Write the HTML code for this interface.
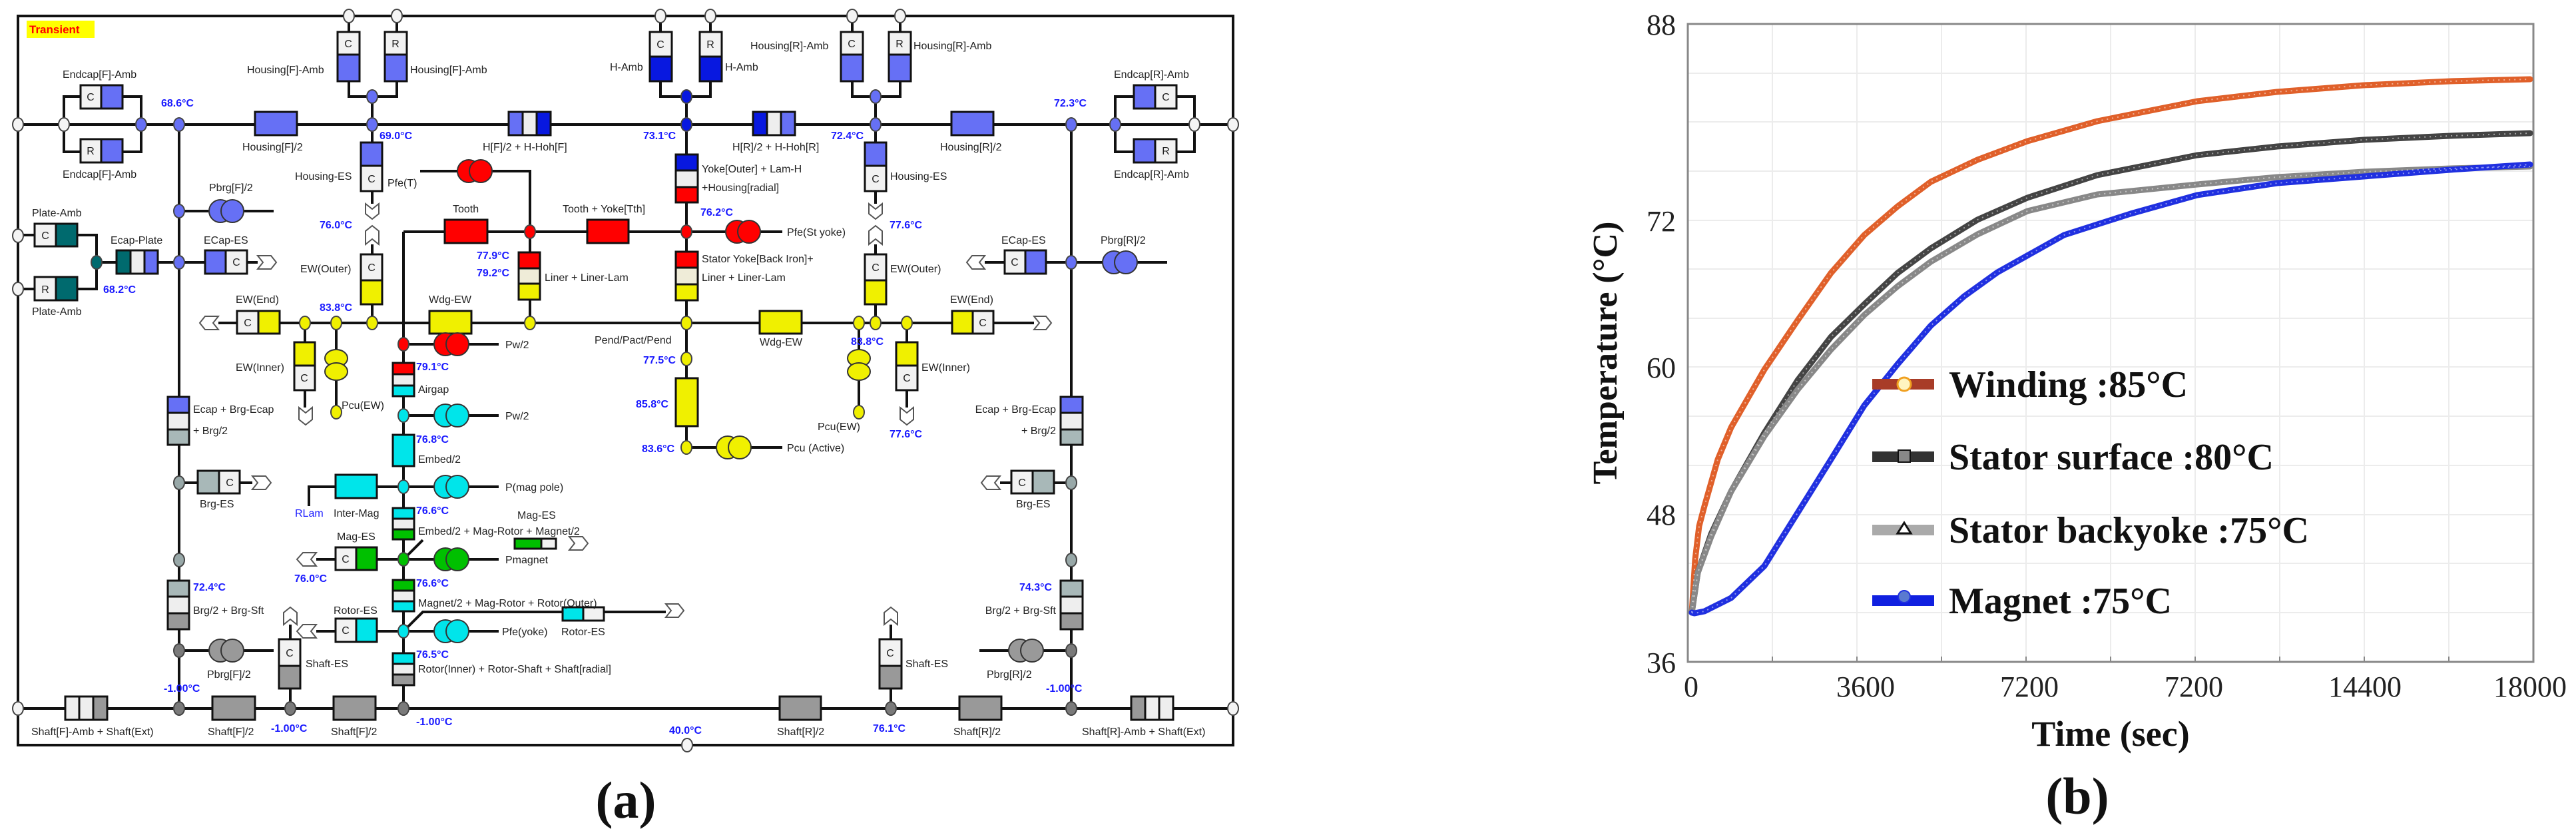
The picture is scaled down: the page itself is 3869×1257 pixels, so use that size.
<!DOCTYPE html>
<html><head><meta charset="utf-8"><style>
html,body{margin:0;padding:0;background:#fff;}
svg{display:block;}
.l{font-family:"Liberation Sans",Arial,sans-serif;font-size:16px;fill:#222;}
.t{font-family:"Liberation Sans",Arial,sans-serif;font-size:16px;fill:#1a1aff;font-weight:bold;}
.s{font-family:"Liberation Serif","Times New Roman",serif;}
</style></head><body>
<svg width="3869" height="1257" viewBox="0 0 3869 1257" xmlns="http://www.w3.org/2000/svg">
<rect width="3869" height="1257" fill="#fff"/>
<!-- ============ PANEL A ============ -->
<rect x="27" y="24" width="1825" height="1095" fill="none" stroke="#111" stroke-width="4"/>
<rect x="40" y="31" width="102" height="26" fill="#ffff00"/>
<text x="44" y="50" font-family="Liberation Sans,sans-serif" font-size="17" font-weight="bold" fill="#ff0000">Transient</text>
<g fill="none" stroke="#111" stroke-width="4">
<path d="M27 187H1852"/>
<path d="M96 187V145H212V187M96 187V228H212V187"/>
<path d="M1675 187V145H1794V187M1675 187V228H1794V187"/>
<path d="M524 24V145H596V24M559 145V306M559 367V485"/>
<path d="M992 24V145H1067V24M1031 145V672"/>
<path d="M1280 24V145H1352V24M1315 145V306M1315 367V485"/>
<path d="M269 187V1064M1609 187V1064"/>
<path d="M631 257H796V485"/>
<path d="M606 348H1031M606 348V1064"/>
<path d="M269 317H411M1609 394H1753"/>
<path d="M27 353H52M27 434H52M116 353H145V434H116M145 394H387"/>
<path d="M1479 394H1609"/>
<path d="M328 485H1553"/>
<path d="M458 485V612M505 485V619M1362 485V612M1290 485V619"/>
<path d="M606 517H749M606 624H749M464 760V731H749M475 840H749M475 948H749"/>
<path d="M606 840L635 811M606 948L635 919H1000"/>
<path d="M1031 672H1175M1031 348H1175"/>
<path d="M269 725H379M269 977H411M1502 725H1609M1471 977H1609"/>
<path d="M436 1064V938M1338 1064V938"/>
<path d="M27 1064H1852"/>
</g>
<!-- blocks -->
<g stroke="#111" stroke-width="3">
<rect x="121" y="128" width="31" height="35" fill="#f2f2f2"/><rect x="152" y="128" width="32" height="35" fill="#6670f5"/>
<rect x="121" y="209" width="31" height="35" fill="#f2f2f2"/><rect x="152" y="209" width="32" height="35" fill="#6670f5"/>
<rect x="1703" y="128" width="32" height="35" fill="#6670f5"/><rect x="1735" y="128" width="32" height="35" fill="#f2f2f2"/>
<rect x="1703" y="209" width="32" height="35" fill="#6670f5"/><rect x="1735" y="209" width="32" height="35" fill="#f2f2f2"/>
<rect x="507" y="48" width="33" height="34" fill="#f2f2f2"/><rect x="507" y="82" width="33" height="40" fill="#6670f5"/>
<rect x="578" y="48" width="33" height="34" fill="#f2f2f2"/><rect x="578" y="82" width="33" height="40" fill="#6670f5"/>
<rect x="976" y="48" width="33" height="37" fill="#f2f2f2"/><rect x="976" y="85" width="33" height="37" fill="#0818e0"/>
<rect x="1051" y="48" width="33" height="37" fill="#f2f2f2"/><rect x="1051" y="85" width="33" height="37" fill="#0818e0"/>
<rect x="1263" y="48" width="33" height="34" fill="#f2f2f2"/><rect x="1263" y="82" width="33" height="40" fill="#6670f5"/>
<rect x="1335" y="48" width="33" height="34" fill="#f2f2f2"/><rect x="1335" y="82" width="33" height="40" fill="#6670f5"/>
<rect x="383" y="168" width="63" height="35" fill="#6670f5"/>
<rect x="764" y="168" width="21" height="35" fill="#6670f5"/><rect x="785" y="168" width="21" height="35" fill="#eee"/><rect x="806" y="168" width="21" height="35" fill="#0818e0"/>
<rect x="1131" y="168" width="21" height="35" fill="#0818e0"/><rect x="1152" y="168" width="21" height="35" fill="#eee"/><rect x="1173" y="168" width="21" height="35" fill="#6670f5"/>
<rect x="1429" y="168" width="63" height="35" fill="#6670f5"/>
<rect x="542" y="214" width="32" height="35" fill="#6670f5"/><rect x="542" y="249" width="32" height="38" fill="#f2f2f2"/>
<rect x="1299" y="214" width="32" height="35" fill="#6670f5"/><rect x="1299" y="249" width="32" height="38" fill="#f2f2f2"/>
<rect x="542" y="382" width="32" height="39" fill="#f2f2f2"/><rect x="542" y="421" width="32" height="36" fill="#f0f000"/>
<rect x="1299" y="382" width="32" height="39" fill="#f2f2f2"/><rect x="1299" y="421" width="32" height="36" fill="#f0f000"/>
<rect x="668" y="330" width="64" height="35" fill="#f00"/><rect x="882" y="330" width="62" height="35" fill="#f00"/>
<rect x="779" y="379" width="32" height="24" fill="#f00"/><rect x="779" y="403" width="32" height="23" fill="#efecd8"/><rect x="779" y="426" width="32" height="24" fill="#f0f000"/>
<rect x="1015" y="232" width="33" height="24" fill="#0818e0"/><rect x="1015" y="256" width="33" height="25" fill="#eee"/><rect x="1015" y="281" width="33" height="23" fill="#f00"/>
<rect x="1015" y="378" width="33" height="24" fill="#f00"/><rect x="1015" y="402" width="33" height="25" fill="#efecd8"/><rect x="1015" y="427" width="33" height="24" fill="#f0f000"/>
<rect x="1015" y="568" width="33" height="72" fill="#f0f000"/>
<rect x="52" y="336" width="32" height="34" fill="#f2f2f2"/><rect x="84" y="336" width="32" height="34" fill="#006a6e"/>
<rect x="52" y="416" width="32" height="35" fill="#f2f2f2"/><rect x="84" y="416" width="32" height="35" fill="#006a6e"/>
<rect x="175" y="376" width="21" height="35" fill="#006a6e"/><rect x="196" y="376" width="21" height="35" fill="#eee"/><rect x="217" y="376" width="20" height="35" fill="#6670f5"/>
<rect x="308" y="376" width="31" height="35" fill="#6670f5"/><rect x="339" y="376" width="32" height="35" fill="#f2f2f2"/>
<rect x="1509" y="376" width="31" height="35" fill="#f2f2f2"/><rect x="1540" y="376" width="31" height="35" fill="#6670f5"/>
<rect x="356" y="467" width="32" height="34" fill="#f2f2f2"/><rect x="388" y="467" width="32" height="34" fill="#f0f000"/>
<rect x="1430" y="467" width="31" height="34" fill="#f0f000"/><rect x="1461" y="467" width="31" height="34" fill="#f2f2f2"/>
<rect x="645" y="467" width="63" height="34" fill="#f0f000"/><rect x="1141" y="467" width="63" height="34" fill="#f0f000"/>
<rect x="442" y="514" width="31" height="35" fill="#f0f000"/><rect x="442" y="549" width="31" height="37" fill="#f2f2f2"/>
<rect x="1346" y="514" width="32" height="35" fill="#f0f000"/><rect x="1346" y="549" width="32" height="37" fill="#f2f2f2"/>
<rect x="590" y="545" width="32" height="17" fill="#f00"/><rect x="590" y="562" width="32" height="17" fill="#eee"/><rect x="590" y="579" width="32" height="16" fill="#00e5ea"/>
<rect x="590" y="653" width="32" height="47" fill="#00e5ea"/>
<rect x="504" y="713" width="62" height="35" fill="#00e5ea"/>
<rect x="590" y="763" width="32" height="16" fill="#00e5ea"/><rect x="590" y="779" width="32" height="16" fill="#eee"/><rect x="590" y="795" width="32" height="15" fill="#00c000"/>
<rect x="504" y="822" width="31" height="34" fill="#f2f2f2"/><rect x="535" y="822" width="31" height="34" fill="#00c000"/>
<rect x="773" y="809" width="40" height="15" fill="#00c000"/><rect x="813" y="809" width="22" height="15" fill="#f2f2f2"/>
<rect x="590" y="871" width="32" height="16" fill="#00c000"/><rect x="590" y="887" width="32" height="16" fill="#eee"/><rect x="590" y="903" width="32" height="15" fill="#00e5ea"/>
<rect x="504" y="929" width="31" height="35" fill="#f2f2f2"/><rect x="535" y="929" width="31" height="35" fill="#00e5ea"/>
<rect x="845" y="912" width="31" height="20" fill="#00e5ea"/><rect x="876" y="912" width="31" height="20" fill="#f2f2f2"/>
<rect x="590" y="981" width="32" height="16" fill="#00e5ea"/><rect x="590" y="997" width="32" height="16" fill="#eee"/><rect x="590" y="1013" width="32" height="16" fill="#999"/>
<rect x="252" y="596" width="32" height="24" fill="#6670f5"/><rect x="252" y="620" width="32" height="25" fill="#eee"/><rect x="252" y="645" width="32" height="23" fill="#a8b8b8"/>
<rect x="1593" y="596" width="33" height="24" fill="#6670f5"/><rect x="1593" y="620" width="33" height="25" fill="#eee"/><rect x="1593" y="645" width="33" height="23" fill="#a8b8b8"/>
<rect x="297" y="707" width="32" height="34" fill="#a8b8b8"/><rect x="329" y="707" width="31" height="34" fill="#f2f2f2"/>
<rect x="1519" y="707" width="32" height="34" fill="#f2f2f2"/><rect x="1551" y="707" width="32" height="34" fill="#a8b8b8"/>
<rect x="252" y="872" width="32" height="24" fill="#a8b8b8"/><rect x="252" y="896" width="32" height="25" fill="#eee"/><rect x="252" y="921" width="32" height="24" fill="#999"/>
<rect x="1593" y="872" width="33" height="24" fill="#a8b8b8"/><rect x="1593" y="896" width="33" height="25" fill="#eee"/><rect x="1593" y="921" width="33" height="24" fill="#999"/>
<rect x="419" y="960" width="32" height="40" fill="#f2f2f2"/><rect x="419" y="1000" width="32" height="34" fill="#999"/>
<rect x="1321" y="960" width="33" height="40" fill="#f2f2f2"/><rect x="1321" y="1000" width="33" height="34" fill="#999"/>
<rect x="98" y="1046" width="21" height="35" fill="#eee"/><rect x="119" y="1046" width="21" height="35" fill="#eee"/><rect x="140" y="1046" width="21" height="35" fill="#999"/>
<rect x="319" y="1046" width="64" height="35" fill="#999"/><rect x="501" y="1046" width="63" height="35" fill="#999"/>
<rect x="1171" y="1046" width="62" height="35" fill="#999"/><rect x="1441" y="1046" width="63" height="35" fill="#999"/>
<rect x="1699" y="1046" width="21" height="35" fill="#999"/><rect x="1720" y="1046" width="21" height="35" fill="#eee"/><rect x="1741" y="1046" width="21" height="35" fill="#eee"/>
</g>
<g class="l" font-size="15" text-anchor="middle">
<text x="136" y="151">C</text><text x="136" y="232">R</text>
<text x="1751" y="151">C</text><text x="1751" y="232">R</text>
<text x="523" y="71">C</text><text x="594" y="71">R</text>
<text x="992" y="72">C</text><text x="1067" y="72">R</text>
<text x="1279" y="71">C</text><text x="1351" y="71">R</text>
<text x="558" y="274">C</text><text x="1315" y="274">C</text>
<text x="558" y="407">C</text><text x="1315" y="407">C</text>
<text x="68" y="359">C</text><text x="68" y="440">R</text>
<text x="355" y="399">C</text><text x="1524" y="399">C</text>
<text x="372" y="490">C</text><text x="1476" y="490">C</text>
<text x="457" y="573">C</text><text x="1362" y="573">C</text>
<text x="519" y="845">C</text><text x="519" y="952">C</text>
<text x="345" y="730">C</text><text x="1535" y="730">C</text>
<text x="435" y="986">C</text><text x="1337" y="986">C</text>
</g>
<g stroke="#333" stroke-width="2">
<g fill="#f00"><circle cx="704" cy="257" r="17"/><circle cx="722" cy="257" r="17"/>
<circle cx="1107" cy="348" r="17"/><circle cx="1125" cy="348" r="17"/>
<circle cx="669" cy="517" r="17"/><circle cx="687" cy="517" r="17"/></g>
<g fill="#6670f5"><circle cx="331" cy="317" r="17"/><circle cx="349" cy="317" r="17"/>
<circle cx="1673" cy="394" r="17"/><circle cx="1691" cy="394" r="17"/></g>
<g fill="#00e5ea"><circle cx="669" cy="624" r="17"/><circle cx="687" cy="624" r="17"/>
<circle cx="669" cy="731" r="17"/><circle cx="687" cy="731" r="17"/>
<circle cx="669" cy="948" r="17"/><circle cx="687" cy="948" r="17"/></g>
<g fill="#00c000"><circle cx="669" cy="840" r="17"/><circle cx="687" cy="840" r="17"/></g>
<g fill="#999"><circle cx="331" cy="977" r="17"/><circle cx="349" cy="977" r="17"/>
<circle cx="1532" cy="977" r="17"/><circle cx="1550" cy="977" r="17"/></g>
<g fill="#f0f000"><circle cx="1093" cy="672" r="17"/><circle cx="1111" cy="672" r="17"/>
<ellipse cx="505" cy="538" rx="17" ry="13"/><ellipse cx="505" cy="558" rx="17" ry="13"/>
<ellipse cx="1290" cy="538" rx="17" ry="13"/><ellipse cx="1290" cy="558" rx="17" ry="13"/></g>
</g>
<g fill="#fff" stroke="#555" stroke-width="2">
<path d="M549 306L559 314L569 306V321L559 329L549 321Z"/>
<path d="M549 367L559 359L569 367V347L559 339L549 347Z"/>
<path d="M1305 306L1315 314L1325 306V321L1315 329L1305 321Z"/>
<path d="M1305 367L1315 359L1325 367V347L1315 339L1305 347Z"/>
<path d="M449 612L459 620L469 612V630L459 638L449 630Z"/>
<path d="M1352 612L1362 620L1372 612V630L1362 638L1352 630Z"/>
<path d="M426 938L436 930L446 938V920L436 912L426 920Z"/>
<path d="M1328 938L1338 930L1348 938V920L1338 912L1328 920Z"/>
<path d="M387 384H407L415 394L407 404H387L395 394Z"/>
<path d="M379 715H399L407 725L399 735H379L387 725Z"/>
<path d="M855 806H875L883 816L875 826H855L863 816Z"/>
<path d="M1000 907H1019L1027 917L1019 927H1000L1008 917Z"/>
<path d="M1553 475H1571L1579 485L1571 495H1553L1561 485Z"/>
<path d="M328 475H308L300 485L308 495H328L320 485Z"/>
<path d="M475 830H455L446 840L455 850H475L467 840Z"/>
<path d="M475 938H455L446 948L455 958H475L467 948Z"/>
<path d="M1479 384H1460L1452 394L1460 404H1479L1471 394Z"/>
<path d="M1502 715H1482L1474 725L1482 735H1502L1494 725Z"/>
</g>
<g stroke="#444" stroke-width="2">
<g fill="#f4f4f4">
<ellipse cx="524" cy="24" rx="8" ry="10"/><ellipse cx="596" cy="24" rx="8" ry="10"/><ellipse cx="992" cy="24" rx="8" ry="10"/><ellipse cx="1067" cy="24" rx="8" ry="10"/><ellipse cx="1280" cy="24" rx="8" ry="10"/><ellipse cx="1352" cy="24" rx="8" ry="10"/>
<ellipse cx="27" cy="187" rx="8" ry="10"/><ellipse cx="96" cy="187" rx="8" ry="10"/><ellipse cx="1794" cy="187" rx="8" ry="10"/><ellipse cx="1852" cy="187" rx="8" ry="10"/>
<ellipse cx="27" cy="354" rx="8" ry="10"/><ellipse cx="27" cy="434" rx="8" ry="10"/><ellipse cx="27" cy="1064" rx="8" ry="10"/><ellipse cx="1852" cy="1064" rx="8" ry="10"/><ellipse cx="1032" cy="1119" rx="8" ry="10"/></g>
<g fill="#6670f5">
<ellipse cx="212" cy="187" rx="8" ry="10"/><ellipse cx="269" cy="187" rx="8" ry="10"/><ellipse cx="559" cy="145" rx="8" ry="10"/><ellipse cx="559" cy="187" rx="8" ry="10"/><ellipse cx="1315" cy="145" rx="8" ry="10"/><ellipse cx="1315" cy="187" rx="8" ry="10"/><ellipse cx="1609" cy="187" rx="8" ry="10"/><ellipse cx="1675" cy="187" rx="8" ry="10"/><ellipse cx="269" cy="317" rx="8" ry="10"/><ellipse cx="269" cy="394" rx="8" ry="10"/><ellipse cx="1609" cy="394" rx="8" ry="10"/></g>
<g fill="#0818e0"><ellipse cx="1031" cy="145" rx="8" ry="10"/><ellipse cx="1031" cy="187" rx="8" ry="10"/></g>
<g fill="#f00"><ellipse cx="796" cy="348" rx="8" ry="10"/><ellipse cx="1031" cy="348" rx="8" ry="10"/><ellipse cx="606" cy="517" rx="8" ry="10"/></g>
<g fill="#f0f000">
<ellipse cx="458" cy="485" rx="8" ry="10"/><ellipse cx="505" cy="485" rx="8" ry="10"/><ellipse cx="559" cy="485" rx="8" ry="10"/><ellipse cx="796" cy="485" rx="8" ry="10"/><ellipse cx="1031" cy="485" rx="8" ry="10"/><ellipse cx="1290" cy="485" rx="8" ry="10"/><ellipse cx="1315" cy="485" rx="8" ry="10"/><ellipse cx="1362" cy="485" rx="8" ry="10"/><ellipse cx="1031" cy="539" rx="8" ry="10"/><ellipse cx="505" cy="619" rx="8" ry="10"/><ellipse cx="1290" cy="619" rx="8" ry="10"/><ellipse cx="1031" cy="672" rx="8" ry="10"/></g>
<g fill="#006a6e"><ellipse cx="145" cy="394" rx="8" ry="10"/></g>
<g fill="#00e5ea"><ellipse cx="606" cy="624" rx="8" ry="10"/><ellipse cx="606" cy="731" rx="8" ry="10"/><ellipse cx="606" cy="948" rx="8" ry="10"/></g>
<g fill="#00c000"><ellipse cx="606" cy="840" rx="8" ry="10"/></g>
<g fill="#7a7a7a"><ellipse cx="269" cy="1064" rx="8" ry="10"/><ellipse cx="436" cy="1064" rx="8" ry="10"/><ellipse cx="606" cy="1064" rx="8" ry="10"/><ellipse cx="1338" cy="1064" rx="8" ry="10"/><ellipse cx="1609" cy="1064" rx="8" ry="10"/><ellipse cx="269" cy="977" rx="8" ry="10"/><ellipse cx="1609" cy="977" rx="8" ry="10"/></g>
<g fill="#98a8a8"><ellipse cx="269" cy="725" rx="8" ry="10"/><ellipse cx="269" cy="841" rx="8" ry="10"/><ellipse cx="1609" cy="725" rx="8" ry="10"/><ellipse cx="1609" cy="841" rx="8" ry="10"/></g>
</g>
<g class="l">
<text x="371" y="110">Housing[F]-Amb</text><text x="616" y="110">Housing[F]-Amb</text>
<text x="916" y="106">H-Amb</text><text x="1089" y="106">H-Amb</text>
<text x="1127" y="74">Housing[R]-Amb</text><text x="1372" y="74">Housing[R]-Amb</text>
<text x="94" y="117">Endcap[F]-Amb</text><text x="94" y="267">Endcap[F]-Amb</text>
<text x="1673" y="117">Endcap[R]-Amb</text><text x="1673" y="267">Endcap[R]-Amb</text>
<text x="364" y="226">Housing[F]/2</text><text x="725" y="226">H[F]/2 + H-Hoh[F]</text>
<text x="1100" y="226">H[R]/2 + H-Hoh[R]</text><text x="1412" y="226">Housing[R]/2</text>
<text x="443" y="270">Housing-ES</text><text x="582" y="280">Pfe(T)</text><text x="1337" y="270">Housing-ES</text>
<text x="1054" y="259">Yoke[Outer] + Lam-H</text><text x="1054" y="287">+Housing[radial]</text>
<text x="314" y="287">Pbrg[F]/2</text><text x="48" y="325">Plate-Amb</text><text x="48" y="473">Plate-Amb</text>
<text x="166" y="366">Ecap-Plate</text><text x="306" y="366">ECap-ES</text><text x="1504" y="366">ECap-ES</text><text x="1653" y="366">Pbrg[R]/2</text>
<text x="680" y="319">Tooth</text><text x="845" y="319">Tooth + Yoke[Tth]</text><text x="1182" y="354">Pfe(St yoke)</text>
<text x="451" y="409">EW(Outer)</text><text x="1337" y="409">EW(Outer)</text><text x="818" y="422">Liner + Liner-Lam</text>
<text x="1054" y="394">Stator Yoke[Back Iron]+</text><text x="1054" y="422">Liner + Liner-Lam</text>
<text x="354" y="455">EW(End)</text><text x="644" y="455">Wdg-EW</text><text x="1427" y="455">EW(End)</text>
<text x="1141" y="519">Wdg-EW</text><text x="893" y="516">Pend/Pact/Pend</text>
<text x="759" y="523">Pw/2</text><text x="354" y="557">EW(Inner)</text><text x="1384" y="557">EW(Inner)</text><text x="628" y="590">Airgap</text>
<text x="290" y="620">Ecap + Brg-Ecap</text><text x="290" y="652">+ Brg/2</text><text x="513" y="614">Pcu(EW)</text>
<text x="759" y="630">Pw/2</text><text x="628" y="695">Embed/2</text><text x="1228" y="646">Pcu(EW)</text><text x="1182" y="678">Pcu (Active)</text>
<text x="1586" y="620" text-anchor="end">Ecap + Brg-Ecap</text><text x="1586" y="652" text-anchor="end">+ Brg/2</text>
<text x="300" y="762">Brg-ES</text><text x="1526" y="762">Brg-ES</text><text x="759" y="737">P(mag pole)</text>
<text x="443" y="776" style="fill:#1a1aff">RLam</text><text x="501" y="776">Inter-Mag</text>
<text x="777" y="779">Mag-ES</text><text x="628" y="803">Embed/2 + Mag-Rotor + Magnet/2</text>
<text x="506" y="811">Mag-ES</text><text x="759" y="846">Pmagnet</text>
<text x="290" y="922">Brg/2 + Brg-Sft</text><text x="1586" y="922" text-anchor="end">Brg/2 + Brg-Sft</text>
<text x="501" y="922">Rotor-ES</text><text x="628" y="911">Magnet/2 + Mag-Rotor + Rotor(Outer)</text>
<text x="754" y="954">Pfe(yoke)</text><text x="843" y="954">Rotor-ES</text>
<text x="459" y="1002">Shaft-ES</text><text x="1360" y="1002">Shaft-ES</text>
<text x="628" y="1010">Rotor(Inner) + Rotor-Shaft + Shaft[radial]</text>
<text x="311" y="1018">Pbrg[F]/2</text><text x="1482" y="1018">Pbrg[R]/2</text>
<text x="47" y="1104">Shaft[F]-Amb + Shaft(Ext)</text><text x="312" y="1104">Shaft[F]/2</text><text x="497" y="1104">Shaft[F]/2</text>
<text x="1167" y="1104">Shaft[R]/2</text><text x="1432" y="1104">Shaft[R]/2</text><text x="1625" y="1104">Shaft[R]-Amb + Shaft(Ext)</text>
</g>
<g class="t">
<text x="242" y="160">68.6°C</text><text x="570" y="209">69.0°C</text><text x="966" y="209">73.1°C</text><text x="1248" y="209">72.4°C</text><text x="1583" y="160">72.3°C</text>
<text x="480" y="343">76.0°C</text><text x="1336" y="343">77.6°C</text><text x="1052" y="324">76.2°C</text>
<text x="716" y="389">77.9°C</text><text x="716" y="415">79.2°C</text><text x="155" y="440">68.2°C</text>
<text x="480" y="467">83.8°C</text><text x="1278" y="518">83.8°C</text><text x="966" y="546">77.5°C</text><text x="625" y="556">79.1°C</text>
<text x="955" y="612">85.8°C</text><text x="964" y="679">83.6°C</text><text x="1336" y="657">77.6°C</text>
<text x="625" y="665">76.8°C</text><text x="625" y="772">76.6°C</text><text x="442" y="874">76.0°C</text><text x="625" y="881">76.6°C</text>
<text x="290" y="887">72.4°C</text><text x="1531" y="887">74.3°C</text><text x="625" y="988">76.5°C</text>
<text x="246" y="1039">-1.00°C</text><text x="1571" y="1039">-1.00°C</text><text x="407" y="1099">-1.00°C</text><text x="625" y="1089">-1.00°C</text>
<text x="1005" y="1102">40.0°C</text><text x="1311" y="1099">76.1°C</text>
</g>
<text x="940" y="1228" class="s" font-size="78" font-weight="bold" text-anchor="middle" fill="#111">(a)</text>

<!-- ============ PANEL B ============ -->
<g stroke="#ececec" stroke-width="2">
<path d="M2662 36V994M2789 36V994M2916 36V994M3043 36V994M3170 36V994M3297 36V994M3424 36V994M3551 36V994M3678 36V994"/>
<path d="M2535 920H3805M2535 846H3805M2535 773H3805M2535 699H3805M2535 625H3805M2535 551H3805M2535 478H3805M2535 404H3805M2535 331H3805M2535 257H3805M2535 183H3805M2535 110H3805"/>
</g>
<rect x="2535" y="36" width="1270" height="958" fill="none" stroke="#888" stroke-width="3"/>
<g stroke="#888" stroke-width="2"><path d="M2662 994v-8M2789 994v-8M2916 994v-8M3043 994v-8M3170 994v-8M3297 994v-8M3424 994v-8M3551 994v-8M3678 994v-8"/></g>
<g class="s" font-size="44" fill="#222">
<text x="2517" y="52" text-anchor="end">88</text><text x="2517" y="347" text-anchor="end">72</text>
<text x="2517" y="567" text-anchor="end">60</text><text x="2517" y="788" text-anchor="end">48</text><text x="2517" y="1010" text-anchor="end">36</text>
<g text-anchor="middle"><text x="2540" y="1046">0</text><text x="2802" y="1046">3600</text><text x="3048" y="1046">7200</text><text x="3295" y="1046">7200</text><text x="3552" y="1046">14400</text><text x="3800" y="1046">18000</text></g>
</g>
<text x="3170" y="1120" class="s" font-size="54" font-weight="bold" text-anchor="middle" fill="#111">Time (sec)</text>
<text transform="translate(2428,530) rotate(-90)" class="s" font-size="52" font-weight="bold" text-anchor="middle" fill="#111">Temperature (°C)</text>
<text x="3120" y="1222" class="s" font-size="78" font-weight="bold" text-anchor="middle" fill="#111">(b)</text>
<g fill="none" stroke-linejoin="round" stroke-linecap="round">
<path d="M2541 920L2546 840L2552 790L2560 760L2580 690L2600 642L2650 555L2700 481L2750 410L2800 353L2850 310L2900 273L2970 240L3045 212L3150 182L3300 152L3420 138L3550 128L3680 122L3800 119" stroke="#e0602a" stroke-width="9"/>
<path d="M2541 920L2550 860L2570 802L2600 738L2650 650L2700 571L2750 506L2800 457L2850 410L2900 373L2970 330L3045 297L3150 263L3300 233L3420 220L3550 210L3680 204L3800 200" stroke="#444" stroke-width="9"/>
<path d="M2541 920L2550 860L2570 806L2600 738L2650 655L2700 585L2750 525L2800 473L2850 430L2900 393L2970 352L3045 317L3150 292L3300 277L3420 266L3550 258L3680 253L3800 250" stroke="#888" stroke-width="9"/>
<path d="M2541 920L2545 921L2560 918L2600 898L2650 850L2700 770L2750 690L2800 609L2850 547L2900 489L2950 445L3000 409L3100 353L3200 321L3300 293L3420 275L3550 265L3680 255L3800 247" stroke="#2030e0" stroke-width="9"/>
</g>
<g fill="none" stroke="#fff" stroke-width="2" stroke-dasharray="2 6" opacity="0.5">
<path d="M2541 920L2546 840L2552 790L2560 760L2580 690L2600 642L2650 555L2700 481L2750 410L2800 353L2850 310L2900 273L2970 240L3045 212L3150 182L3300 152L3420 138L3550 128L3680 122L3800 119"/>
<path d="M2541 920L2550 860L2570 802L2600 738L2650 650L2700 571L2750 506L2800 457L2850 410L2900 373L2970 330L3045 297L3150 263L3300 233L3420 220L3550 210L3680 204L3800 200"/>
<path d="M2541 920L2550 860L2570 806L2600 738L2650 655L2700 585L2750 525L2800 473L2850 430L2900 393L2970 352L3045 317L3150 292L3300 277L3420 266L3550 258L3680 253L3800 250"/>
<path d="M2541 920L2545 921L2560 918L2600 898L2650 850L2700 770L2750 690L2800 609L2850 547L2900 489L2950 445L3000 409L3100 353L3200 321L3300 293L3420 275L3550 265L3680 255L3800 247"/>
</g>
<rect x="2812" y="569" width="93" height="16" fill="#a83c28"/><circle cx="2860" cy="577" r="10" fill="#fff4c0" stroke="#f0a020" stroke-width="3"/>
<rect x="2812" y="678" width="93" height="16" fill="#333"/><rect x="2851" y="676" width="18" height="18" fill="#888" stroke="#111" stroke-width="2"/>
<rect x="2812" y="788" width="93" height="16" fill="#aaa"/><path d="M2860 785L2870 801H2850Z" fill="#fff" stroke="#111" stroke-width="3"/>
<rect x="2812" y="894" width="93" height="16" fill="#1020e0"/><circle cx="2860" cy="896" r="9" fill="#5a7ad0" stroke="#2030e0" stroke-width="2"/>
<g class="s" font-size="56" font-weight="bold" fill="#111">
<text x="2927" y="596">Winding :85°C</text>
<text x="2927" y="705">Stator surface :80°C</text>
<text x="2927" y="815">Stator backyoke :75°C</text>
<text x="2927" y="921">Magnet :75°C</text>
</g>
</svg>
</body></html>
